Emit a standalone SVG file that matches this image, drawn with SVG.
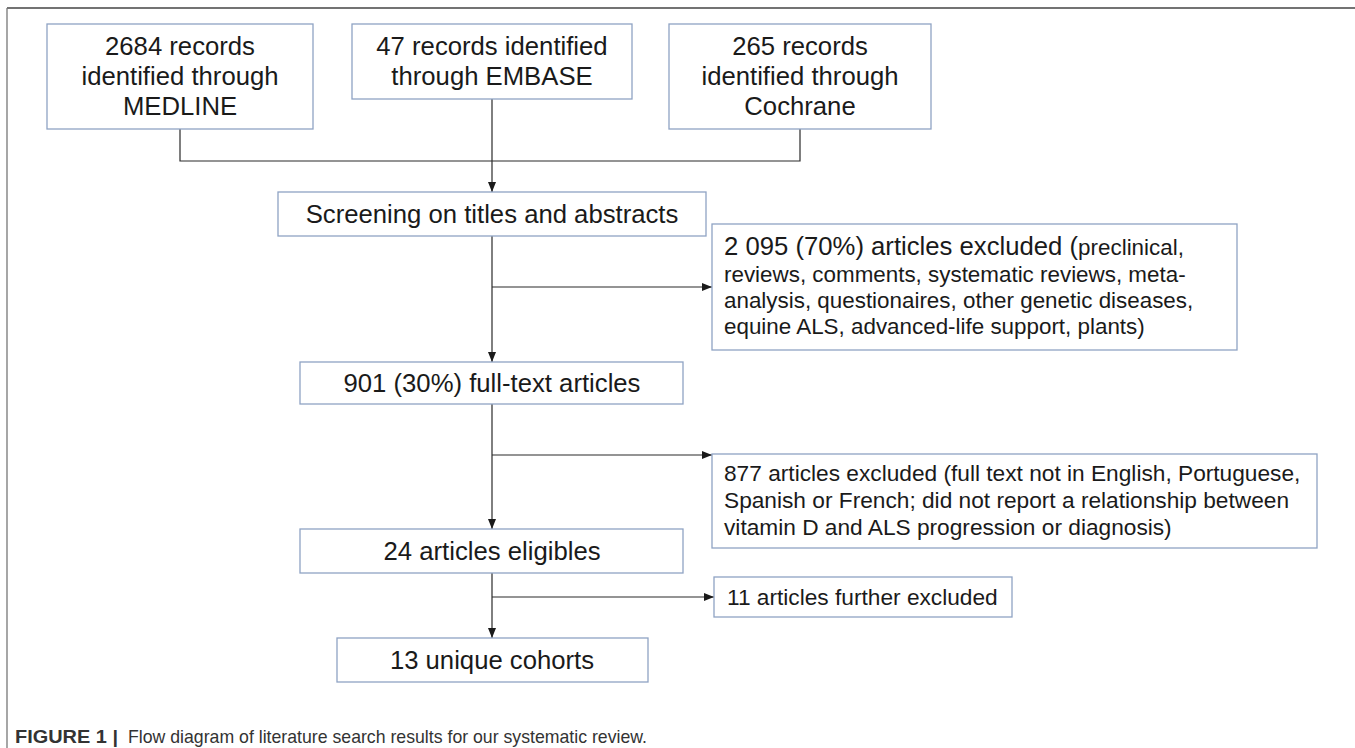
<svg xmlns="http://www.w3.org/2000/svg" width="1355" height="748" viewBox="0 0 1355 748">
<defs>
<marker id="arr" markerUnits="userSpaceOnUse" markerWidth="10" markerHeight="10" viewBox="0 0 10 10" refX="10" refY="5" orient="auto">
<path d="M0,1 L10,5 L0,9 Z" fill="#1a1a1a"/>
</marker>
</defs>
<style>
.box{fill:#fff;stroke:#8fa3c4;stroke-width:1.3}
.t{font-family:"Liberation Sans",Arial,sans-serif;font-size:25.7px;fill:#1a1a1a;text-anchor:middle}
.s{font-family:"Liberation Sans",Arial,sans-serif;fill:#1a1a1a;font-size:22.4px}
.m{font-family:"Liberation Sans",Arial,sans-serif;fill:#1a1a1a;font-size:22.7px}
.c{fill:none;stroke:#2a2a2a;stroke-width:1.2}
.cap{font-family:"Liberation Sans",Arial,sans-serif;font-size:19px;fill:#333}
</style>
<rect width="1355" height="748" fill="#fff"/>
<line x1="7" y1="8" x2="1355" y2="8" stroke="#444" stroke-width="1.6"/>
<line x1="7" y1="8" x2="7" y2="748" stroke="#777" stroke-width="1.3"/>

<g id="connectors">
<path class="c" d="M180,129 V161 H800 V129"/>
<path class="c" d="M492,99 V192" marker-end="url(#arr)"/>
<path class="c" d="M492,236 V362" marker-end="url(#arr)"/>
<path class="c" d="M492,287 H712" marker-end="url(#arr)"/>
<path class="c" d="M492,404 V529" marker-end="url(#arr)"/>
<path class="c" d="M492,455 H712" marker-end="url(#arr)"/>
<path class="c" d="M492,573 V638" marker-end="url(#arr)"/>
<path class="c" d="M492,597 H714" marker-end="url(#arr)"/>
</g>

<g id="medline">
<rect class="box" x="47" y="24" width="266" height="105"/>
<text class="t" x="180" y="55">2684 records</text>
<text class="t" x="180" y="85">identified through</text>
<text class="t" x="180" y="115">MEDLINE</text>
</g>

<g id="embase">
<rect class="box" x="352" y="24" width="280" height="75"/>
<text class="t" x="492" y="55">47 records identified</text>
<text class="t" x="492" y="85">through EMBASE</text>
</g>

<g id="cochrane">
<rect class="box" x="669" y="24" width="262" height="105"/>
<text class="t" x="800" y="55">265 records</text>
<text class="t" x="800" y="85">identified through</text>
<text class="t" x="800" y="115">Cochrane</text>
</g>

<g id="screening">
<rect class="box" x="278" y="192" width="428" height="44"/>
<text class="t" x="492" y="223">Screening on titles and abstracts</text>
</g>

<g id="excluded1">
<rect class="box" x="712" y="224" width="525" height="126"/>
<text class="s" x="724" y="255"><tspan font-size="25.7">2 095 (70%) articles excluded (</tspan><tspan>preclinical,</tspan></text>
<text class="s" x="724" y="282">reviews, comments, systematic reviews, meta-</text>
<text class="s" x="724" y="308">analysis, questionaires, other genetic diseases,</text>
<text class="s" x="724" y="334">equine ALS, advanced-life support, plants)</text>
</g>

<g id="fulltext">
<rect class="box" x="300" y="362" width="383" height="42"/>
<text class="t" x="492" y="392">901 (30%) full-text articles</text>
</g>

<g id="excluded2">
<rect class="box" x="712" y="454" width="605" height="94"/>
<text class="m" x="724" y="481">877 articles excluded (full text not in English, Portuguese,</text>
<text class="m" x="724" y="508">Spanish or French; did not report a relationship between</text>
<text class="m" x="724" y="535">vitamin D and ALS progression or diagnosis)</text>
</g>

<g id="eligible">
<rect class="box" x="300" y="529" width="383" height="44"/>
<text class="t" x="492" y="560">24 articles eligibles</text>
</g>

<g id="excluded3">
<rect class="box" x="714" y="577" width="298" height="40"/>
<text class="m" x="727" y="605">11 articles further excluded</text>
</g>

<g id="cohorts">
<rect class="box" x="337" y="638" width="311" height="44"/>
<text class="t" x="492" y="669">13 unique cohorts</text>
</g>

<g id="caption">
<text class="cap" x="15" y="743" font-weight="bold" textLength="103" lengthAdjust="spacingAndGlyphs">FIGURE 1 |</text>
<text class="cap" x="128" y="743" textLength="519" lengthAdjust="spacingAndGlyphs">Flow diagram of literature search results for our systematic review.</text>
</g>
</svg>
